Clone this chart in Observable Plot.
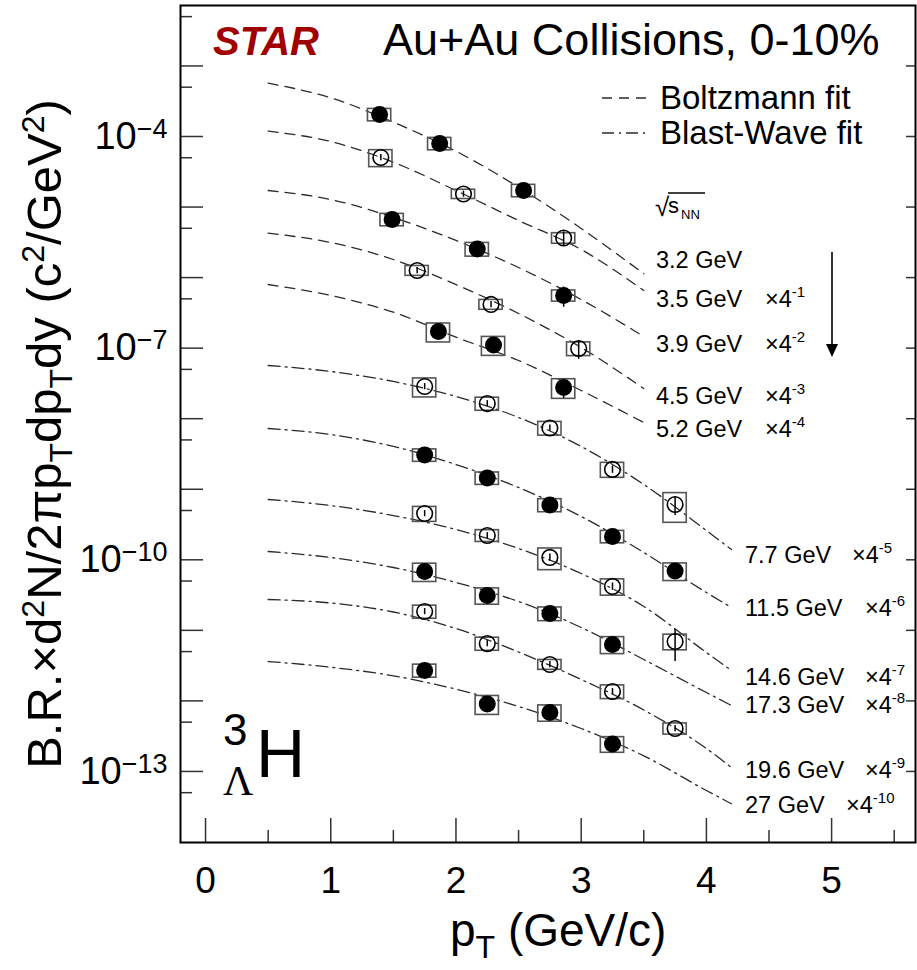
<!DOCTYPE html>
<html><head><meta charset="utf-8">
<script src="https://cdn.jsdelivr.net/npm/d3@7"></script>
<script src="https://cdn.jsdelivr.net/npm/@observablehq/plot@0.6"></script>
<style>html,body{margin:0;padding:0;background:#fff}svg{display:block}</style>
</head><body><div id="chart"></div>
<script>
// ---------------- data ----------------
const energies = ["3.2 GeV","3.5 GeV","3.9 GeV","4.5 GeV","5.2 GeV","7.7 GeV","11.5 GeV","14.6 GeV","17.3 GeV","19.6 GeV","27 GeV"];
const scalePower = [0,-1,-2,-3,-4,-5,-6,-7,-8,-9,-10];
const fitModel = ["Boltzmann","Boltzmann","Boltzmann","Boltzmann","Boltzmann","BlastWave","BlastWave","BlastWave","BlastWave","BlastWave","BlastWave"];

const pT = [
  [1.39, 1.87, 2.54],
  [1.40, 2.06, 2.86],
  [1.49, 2.17, 2.86],
  [1.69, 2.28, 2.98],
  [1.86, 2.30, 2.86],
  [1.75, 2.25, 2.75, 3.25, 3.75],
  [1.75, 2.25, 2.75, 3.25, 3.75],
  [1.75, 2.25, 2.75, 3.25, 3.75],
  [1.75, 2.25, 2.75, 3.25],
  [1.75, 2.25, 2.75, 3.25, 3.75],
  [1.75, 2.25, 2.75, 3.25]
];
// plotted (already scaled by 4^n) yields
const yieldScaled = [
  [2.05e-4, 7.96e-5, 1.72e-5],
  [5.04e-5, 1.53e-5, 3.64e-6],
  [6.67e-6, 2.54e-6, 5.57e-7],
  [1.26e-6, 4.16e-7, 9.89e-8],
  [1.72e-7, 1.11e-7, 2.77e-8],
  [2.86e-8, 1.64e-8, 7.38e-9, 1.91e-9, 6.08e-10],
  [3.06e-9, 1.44e-9, 5.98e-10, 2.14e-10, 6.94e-11],
  [4.53e-10, 2.21e-10, 1.08e-10, 4.19e-11, 6.95e-12],
  [6.83e-11, 3.12e-11, 1.73e-11, 6.31e-12],
  [1.85e-11, 6.50e-12, 3.28e-12, 1.36e-12, 4.06e-13],
  [2.70e-12, 9.04e-13, 6.85e-13, 2.45e-13]
];
const systRel = [
  [0.20, 0.20, 0.20],
  [0.27, 0.15, 0.17],
  [0.20, 0.22, 0.18],
  [0.16, 0.16, 0.22],
  [0.30, 0.30, 0.31],
  [0.30, 0.21, 0.22, 0.24, 0.45],
  [0.20, 0.20, 0.21, 0.20, 0.28],
  [0.24, 0.19, 0.34, 0.26, 0.25],
  [0.29, 0.26, 0.22, 0.27],
  [0.21, 0.21, 0.16, 0.22, 0.18],
  [0.21, 0.30, 0.26, 0.25]
];
const statRel = [
  [0.10, 0.10, 0.10],
  [0.10, 0.10, 0.22],
  [0.10, 0.10, 0.32],
  [0.10, 0.10, 0.30],
  [0.10, 0.10, 0.30],
  [0.10, 0.10, 0.10, 0.12, 0.30],
  [0.10, 0.10, 0.10, 0.10, 0.10],
  [0.10, 0.10, 0.12, 0.12, 0.48],
  [0.10, 0.10, 0.10, 0.10],
  [0.10, 0.10, 0.10, 0.10, 0.10],
  [0.10, 0.10, 0.10, 0.10]
];
const fitPtBoltzmann = [0.5, 1.0, 1.5, 2.0, 2.5, 3.0, 3.5];
const fitPtBlastWave = [0.5, 1.0, 1.5, 2.0, 2.5, 3.0, 3.5, 4.0, 4.2];
const fitCurves = [
  [5.69e-4, 3.54e-4, 1.594e-4, 6.19e-5, 1.912e-5, 4.97e-6, 1.132e-6],
  [1.189e-4, 8.49e-5, 4.32e-5, 1.716e-5, 6.45e-6, 2.50e-6, 6.56e-7],
  [1.716e-5, 1.279e-5, 7.11e-6, 3.36e-6, 1.390e-6, 4.89e-7, 1.463e-7],
  [4.26e-6, 3.145e-6, 1.805e-6, 7.98e-7, 3.10e-7, 1.021e-7, 2.68e-8],
  [7.98e-7, 5.58e-7, 3.23e-7, 1.430e-7, 6.68e-8, 2.51e-8, 8.83e-9],
  [5.68e-8, 4.67e-8, 3.37e-8, 2.064e-8, 1.040e-8, 4.04e-9, 1.168e-9, 2.60e-10, 1.400e-10],
  [7.26e-9, 5.97e-9, 4.04e-9, 2.243e-9, 1.059e-9, 4.11e-10, 1.269e-10, 3.44e-11, 2.109e-11],
  [7.16e-10, 5.88e-10, 4.24e-10, 2.69e-10, 1.446e-10, 6.39e-11, 2.179e-11, 4.85e-12, 2.70e-12],
  [1.311e-10, 1.078e-10, 7.78e-11, 4.77e-11, 2.564e-11, 1.098e-11, 3.86e-12, 1.315e-12, 8.61e-13],
  [2.737e-11, 2.44e-11, 1.820e-11, 1.062e-11, 4.93e-12, 2.010e-12, 7.43e-13, 2.115e-13, 1.138e-13],
  [3.62e-12, 3.00e-12, 2.269e-12, 1.465e-12, 8.33e-13, 4.06e-13, 1.666e-13, 5.37e-14, 3.48e-14]
];
const xMajorTicks = [0, 1, 2, 3, 4, 5];
const xMinorTicks = [0.5, 1.5, 2.5, 3.5, 4.5, 5.5];
const yDecadeTicks = [1e-3,1e-4,1e-5,1e-6,1e-7,1e-8,1e-9,1e-10,1e-11,1e-12,1e-13];
const yFiveTicks = [5e-3,5e-4,5e-5,5e-6,5e-7,5e-8,5e-9,5e-10,5e-11,5e-12,5e-13,5e-14];
const yLabelTicks = [1e-4, 1e-7, 1e-10, 1e-13];

// ---------------- tables ----------------
const points = [];
energies.forEach((e, i) => pT[i].forEach((p, j) => points.push({
  series: i, energy: e, pt: p, v: yieldScaled[i][j], syst: systRel[i][j], stat: statRel[i][j], filled: i % 2 === 0
})));
const fits = [];
fitCurves.forEach((c, i) => {
  const grid = fitModel[i] === "Boltzmann" ? fitPtBoltzmann : fitPtBlastWave;
  c.forEach((v, j) => fits.push({series: i, model: fitModel[i], pt: grid[j], v}));
});

const FONT = "'Liberation Sans', Arial, Helvetica, sans-serif";
const halfW = 0.093;

const svg = Plot.plot({
  width: 917, height: 970,
  marginLeft: 180, marginRight: 2, marginTop: 5, marginBottom: 128,
  style: {fontFamily: FONT, background: "#fff", color: "#000"},
  x: {domain: [-0.2, 5.67]},
  y: {type: "log", domain: [Math.pow(10, -14.0071), Math.pow(10, -2.1432)]},
  marks: [
    Plot.line(fits.filter(d => d.model === "Boltzmann"), {x: "pt", y: "v", z: "series", curve: "monotone-x", stroke: "#2b2b2b", strokeWidth: 1.3, strokeDasharray: "10,7"}),
    Plot.line(fits.filter(d => d.model === "BlastWave"), {x: "pt", y: "v", z: "series", curve: "monotone-x", stroke: "#2b2b2b", strokeWidth: 1.3, strokeDasharray: "12,5,2,5"}),
    Plot.rect(points, {x1: d => d.pt - halfW, x2: d => d.pt + halfW, y1: d => d.v * (1 - d.syst), y2: d => d.v * (1 + d.syst), fill: "none", stroke: "#555", strokeWidth: 1.6}),
    Plot.ruleX(points, {x: "pt", y1: d => d.v * (1 - d.stat), y2: d => d.v * (1 + d.stat), stroke: "#000", strokeWidth: 1.5}),
    Plot.dot(points.filter(d => d.filled), {x: "pt", y: "v", r: 8.5, fill: "#000"}),
    Plot.dot(points.filter(d => !d.filled), {x: "pt", y: "v", r: 7.8, fill: "none", stroke: "#000", strokeWidth: 1.6}),
    Plot.axisX({ticks: xMajorTicks, tickSize: -24, fill: "none", label: null, stroke: "#333", strokeWidth: 1.5}),
    Plot.axisX({ticks: xMinorTicks, tickSize: -12, fill: "none", label: null, stroke: "#333", strokeWidth: 1.5}),
    Plot.axisX({ticks: xMajorTicks, tickSize: 0, tickPadding: 24, fontSize: 37, label: null, tickFormat: d => String(d)}),
    Plot.axisY({ticks: yDecadeTicks, tickSize: -23, fill: "none", label: null, stroke: "#333", strokeWidth: 1.5}),
    Plot.axisY({ticks: yFiveTicks, tickSize: -12, fill: "none", label: null, stroke: "#333", strokeWidth: 1.5}),
    Plot.axisY({anchor: "right", ticks: yDecadeTicks, tickSize: -10, fill: "none", label: null, stroke: "#333", strokeWidth: 1.5}),
    Plot.axisY({ticks: yLabelTicks, tickSize: 0, tickPadding: 13, fontSize: 38, label: null, tickFormat: d => "10^\u2212" + Math.round(-Math.log10(d))}),
    Plot.frame({stroke: "#000", strokeWidth: 2})
  ]
});
document.getElementById("chart").append(svg);

const s = d3.select(svg);
// y tick labels as 10 with raised exponent
s.selectAll('g[aria-label="y-axis tick label"] text').each(function () {
  const t = d3.select(this);
  const parts = t.text().split("^");
  t.text("");
  t.append("tspan").text(parts[0]);
  t.append("tspan").attr("dy", -11).attr("font-size", 27).text(parts[1]);
});

const g = s.append("g").attr("font-family", FONT).attr("fill", "#000").attr("text-anchor", "start");
function txt(x, y, str, size, extra) {
  const t = g.append("text").attr("x", x).attr("y", y).attr("font-size", size).attr("text-anchor", "start").text(str);
  if (extra) extra(t);
  return t;
}
// Header
txt(213, 55, "STAR", 40, t => t.attr("font-weight", "bold").attr("font-style", "italic").attr("fill", "#a00000"));
txt(383, 55, "Au+Au Collisions, 0-10%", 45);

// Legend
g.append("line").attr("x1", 602).attr("x2", 646).attr("y1", 98).attr("y2", 98).attr("stroke", "#2b2b2b").attr("stroke-width", 1.3).attr("stroke-dasharray", "10,7");
g.append("line").attr("x1", 602).attr("x2", 646).attr("y1", 133).attr("y2", 133).attr("stroke", "#2b2b2b").attr("stroke-width", 1.3).attr("stroke-dasharray", "12,5,2,5");
txt(660, 109, "Boltzmann fit", 33);
txt(660, 144, "Blast-Wave fit", 33);

// sqrt(s_NN)
txt(655, 216, "\u221A", 26);
g.append("line").attr("x1", 668).attr("x2", 705).attr("y1", 193).attr("y2", 193).attr("stroke", "#000").attr("stroke-width", 1.3);
txt(668, 213, "s", 22);
txt(681, 219, "NN", 13);

// energy labels
const labelPlace = [
  [656, 268, 765], [656, 306.5, 765], [656, 351.5, 765], [656, 403.5, 765], [656, 436.5, 765],
  [745, 563, 852], [745, 616, 865], [745, 685, 865], [745, 713, 865], [745, 778, 865], [745, 813, 846]
];
energies.forEach((e, i) => {
  const [x, y, xs] = labelPlace[i];
  txt(x, y, e, 23.5);
  if (scalePower[i] !== 0) {
    const t = txt(xs, y, "\u00D74", 23.5);
    t.append("tspan").attr("dy", -10).attr("font-size", 15).text(String(scalePower[i]));
  }
});

// arrow
g.append("line").attr("x1", 832).attr("x2", 832).attr("y1", 252).attr("y2", 346).attr("stroke", "#000").attr("stroke-width", 1.6);
g.append("path").attr("d", "M826,344 L838,344 L832,357 Z").attr("fill", "#000");

// hypertriton label
txt(223, 745, "3", 44);
txt(223, 795, "\u039B", 42, t => t.attr("font-family", "'Liberation Serif', 'DejaVu Serif', serif"));
txt(256, 777, "H", 68);

// axis titles
const xt = g.append("text").attr("x", 450).attr("y", 946).attr("font-size", 46).attr("text-anchor", "start").text("p");
xt.append("tspan").attr("dy", 12).attr("font-size", 32).text("T");
xt.append("tspan").attr("dy", -12).text(" (GeV/c)");

const yt = g.append("text").attr("transform", "translate(61,434) rotate(-90)").attr("text-anchor", "middle").attr("font-size", 49);
yt.append("tspan").text("B.R.\u00D7d");
yt.append("tspan").attr("dy", -17).attr("font-size", 32).text("2");
yt.append("tspan").attr("dy", 17).text("N/2\u03C0p");
yt.append("tspan").attr("dy", 11).attr("font-size", 32).text("T");
yt.append("tspan").attr("dy", -11).text("dp");
yt.append("tspan").attr("dy", 11).attr("font-size", 32).text("T");
yt.append("tspan").attr("dy", -11).text("dy (c");
yt.append("tspan").attr("dy", -17).attr("font-size", 32).text("2");
yt.append("tspan").attr("dy", 17).text("/GeV");
yt.append("tspan").attr("dy", -17).attr("font-size", 32).text("2");
yt.append("tspan").attr("dy", 17).text(")");
</script>
</body></html>
